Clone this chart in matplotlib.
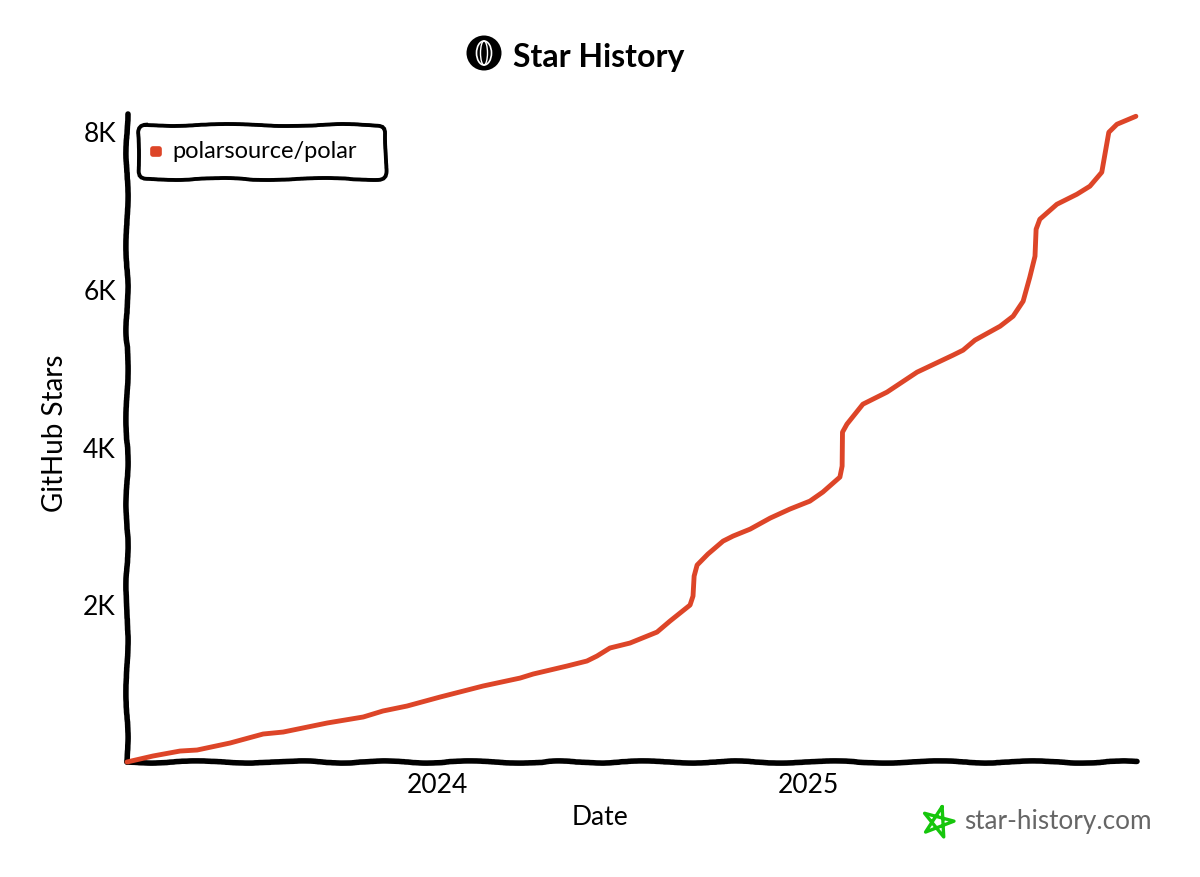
import numpy as np
import matplotlib
matplotlib.use("Agg")
import matplotlib.pyplot as plt
from matplotlib.patches import Circle, Ellipse, FancyBboxPatch

REPO = "polarsource/polar"

# dates as fractional years
YEARS = [2023.164, 2023.234, 2023.307, 2023.353, 2023.442, 2023.531, 2023.585,
         2023.704, 2023.801, 2023.854, 2023.919, 2024.008, 2024.124, 2024.224,
         2024.259, 2024.350, 2024.404, 2024.431, 2024.466, 2024.520, 2024.593,
         2024.628, 2024.682, 2024.690, 2024.693, 2024.701, 2024.730, 2024.771,
         2024.798, 2024.844, 2024.898, 2024.951, 2025.005, 2025.040, 2025.086,
         2025.092, 2025.093, 2025.105, 2025.148, 2025.213, 2025.294, 2025.391,
         2025.418, 2025.450, 2025.518, 2025.553, 2025.580, 2025.598, 2025.612,
         2025.615, 2025.625, 2025.671, 2025.725, 2025.760, 2025.792, 2025.811,
         2025.833, 2025.884]
STARS = [0, 76, 139, 152, 241, 355, 380,
         495, 571, 647, 710, 824, 964, 1065,
         1116, 1217, 1281, 1344, 1446, 1509, 1648,
         1788, 1991, 2105, 2358, 2498, 2637, 2802,
         2866, 2954, 3094, 3208, 3309, 3424, 3614,
         3753, 4184, 4286, 4539, 4692, 4945, 5161,
         5224, 5351, 5528, 5655, 5845, 6150, 6416,
         6758, 6885, 7075, 7202, 7304, 7481, 7988,
         8090, 8191]

Y_TICKS = [2000, 4000, 6000, 8000]
Y_LABELS = ["2K", "4K", "6K", "8K"]
X_TICKS = [2024, 2025]
X_LABELS = ["2024", "2025"]

LINE_COLOR = "#dd4528"
FONT = "Lato"

W, H = 1200, 878
plt.rcParams["font.family"] = [FONT, "DejaVu Sans"]

fig = plt.figure(figsize=(W / 100, H / 100), dpi=100)
ax = fig.add_axes([127 / W, 1 - 763 / H, (1137 - 127) / W, (763 - 115) / H])

ax.plot(YEARS, STARS, color=LINE_COLOR, linewidth=3.5, solid_capstyle="round",
        solid_joinstyle="round", clip_on=False, zorder=3)

ax.set_xlim(2023.164, 2025.887)
ax.set_ylim(0, 8220)
ax.set_xticks(X_TICKS)
ax.set_xticklabels(X_LABELS)
ax.set_yticks(Y_TICKS)
ax.set_yticklabels(Y_LABELS)
ax.tick_params(length=0, labelsize=19)
ax.tick_params(axis="x", pad=7)
ax.tick_params(axis="y", pad=8)
ax.set_xlabel("Date", fontsize=19, labelpad=5, x=(600 - 127) / (1137 - 127))
ax.set_ylabel("GitHub Stars", fontsize=20, labelpad=11, y=(763 - 433) / (763 - 115))

for side in ["top", "right"]:
    ax.spines[side].set_visible(False)
for side in ["left", "bottom"]:
    ax.spines[side].set_linewidth(4)
    ax.spines[side].set_capstyle("round")
    ax.spines[side].set_sketch_params(scale=1.1, length=130, randomness=4)

# overlay in pixel coordinates for the hand-drawn bits
over = fig.add_axes([0, 0, 1, 1], facecolor="none")
over.set_xlim(0, W)
over.set_ylim(H, 0)
over.axis("off")

# legend box
box = FancyBboxPatch((138, 126), 248, 54, boxstyle="round,pad=0,rounding_size=8",
                     fc="white", ec="black", lw=2.8)
box.set_sketch_params(scale=1, length=150, randomness=4)
over.add_patch(box)
over.add_patch(FancyBboxPatch((151, 148), 10, 9, boxstyle="round,pad=0,rounding_size=2",
                              fc=LINE_COLOR, ec=LINE_COLOR, lw=1.2))
over.text(172, 152, REPO, fontsize=17, va="center", ha="left", color="black")

# title with logo
over.add_patch(Circle((484, 54), 17.5, fc="black", ec="none"))
over.add_patch(Ellipse((484, 54), 15, 24, fc="none", ec="white", lw=1.2))
over.add_patch(Ellipse((484, 54), 7, 24, fc="none", ec="white", lw=1.0))
over.text(513, 57, "Star History", fontsize=23, fontweight="bold", va="center",
          ha="left", color="black")

# watermark
star_angles = np.deg2rad(-75 + 144 * np.arange(6))
over.plot(938 + 16 * np.cos(star_angles), 823 + 16 * np.sin(star_angles),
          color="#16c60c", lw=2.4, solid_joinstyle="round", solid_capstyle="round")
over.text(964, 822, "star-history.com", fontsize=18.8, va="center", ha="left",
          color="#666666")

plt.savefig("out.png", dpi=100)
plt.close(fig)
